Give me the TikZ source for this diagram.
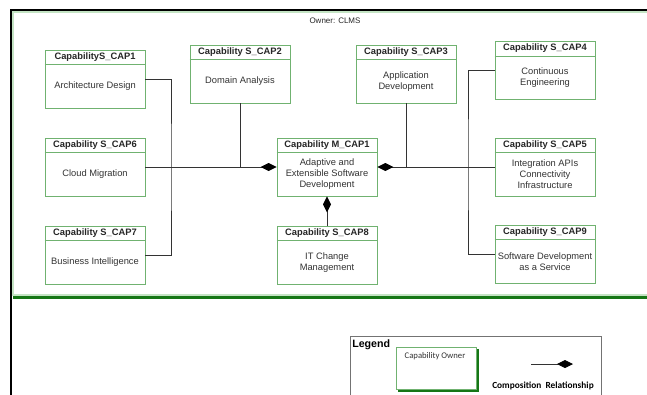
\documentclass[tikz,border=0pt]{standalone}
\usepackage{fontspec}
\setmainfont{Liberation Sans}
\newfontfamily\legendfont{Carlito}
\usetikzlibrary{arrows.meta}

\definecolor{capgreen}{RGB}{112,178,112}
\definecolor{framegreen}{RGB}{22,118,22}
\definecolor{palegreen}{RGB}{196,228,196}

\tikzset{
  capbox/.style={draw=capgreen,line width=0.65pt,fill=white,
    minimum width=75pt,minimum height=43.5pt,inner sep=0pt},
  captitle/.style={font=\fontsize{7}{8}\selectfont\bfseries,text=black!85},
  captext/.style={font=\fontsize{7}{8.25}\selectfont,align=center,text=black!80},
  link/.style={draw=black!80,line width=0.7pt},
  comp/.style={link,-{Diamond[length=12pt,width=6pt,fill=black,color=black]}},
}

\begin{document}
\begin{tikzpicture}[x=0.75pt,y=-0.75pt]
  \useasboundingbox (0,0) rectangle (647,394);
  % owner frame
  \draw[palegreen,line width=0.8pt] (13,12) rectangle (652,295);
  \draw[framegreen,line width=2.2pt] (13,297.5) -- (647,297.5);
  \draw[black,line width=1.5pt] (11,396) -- (11,10) -- (649,10);
  \node[font=\fontsize{6}{7}\selectfont,text=black!85] (owner) at (335,21) {Owner: CLMS};

  % capabilities
  \foreach \nm/\pos/\ttl/\txt in {
    s1/{95,79}/{CapabilityS\_CAP1}/{Architecture Design},
    s2/{240,74}/{Capability S\_CAP2}/{Domain Analysis},
    s3/{406,74}/{Capability S\_CAP3}/{Application\\Development},
    s4/{545,70.5}/{Capability S\_CAP4}/{Continuous\\Engineering},
    s6/{95,167}/{Capability S\_CAP6}/{Cloud Migration},
    m1/{327,167}/{Capability M\_CAP1}/{Adaptive and\\Extensible Software\\Development},
    s5/{545,167}/{Capability S\_CAP5}/{Integration APIs\\Connectivity\\Infrastructure},
    s7/{95,255}/{Capability S\_CAP7}/{Business Intelligence},
    s8/{327,255}/{Capability S\_CAP8}/{IT Change\\Management},
    s9/{545,254}/{Capability S\_CAP9}/{Software Development\\as a Service}}{
      \node[capbox] (\nm) at (\pos) {};
      \draw[capgreen,line width=0.65pt]
        ([yshift=-11.25pt]\nm.north west) -- ([yshift=-11.25pt]\nm.north east);
      \node[captitle] at ([yshift=-5.6pt]\nm.north) {\ttl};
      \node[captext] at ([yshift=-5.6pt]\nm.center) {\txt};
  }

  % composition links
  \coordinate (jl) at (171,167);
  \coordinate (jr) at (468,167);
  \draw[link] (s1.east) -| (jl) |- (s7.east);
  \draw[link] (s2.south) -- (s2.south |- m1.west);
  \draw[link] (s3.south) -- (s3.south |- m1.east);
  \draw[link] (s4.west) -| (jr) |- (s9.west);
  \draw[comp] (s6.east) -- (m1.west);
  \draw[comp] (s5.west) -- (m1.east);
  \draw[comp] (s8.north) -- (m1.south);

  % legend
  \draw[black!55,line width=0.7pt] (350,336) rectangle (601,400);
  \node[font=\fontsize{8}{9}\selectfont\bfseries,anchor=north west,inner sep=0pt]
    (legend) at (352,339) {Legend};
  \fill[framegreen] (398,349) rectangle (479,392);
  \node[draw=capgreen,line width=0.65pt,fill=white,minimum width=60pt,
    minimum height=32pt,inner sep=0pt] (own) at (436.5,368.5) {};
  \node[font=\legendfont\fontsize{6.5}{7}\selectfont,text=black!80] at (435,356)
    {Capability Owner};
  \coordinate (la) at (531,364);
  \coordinate (lb) at (573,364);
  \draw[comp] (la) -- (lb);
  \node[font=\legendfont\fontsize{7}{8}\selectfont\bfseries] (complab) at (543,386)
    {Composition\ \ Relationship};
\end{tikzpicture}
\end{document}
